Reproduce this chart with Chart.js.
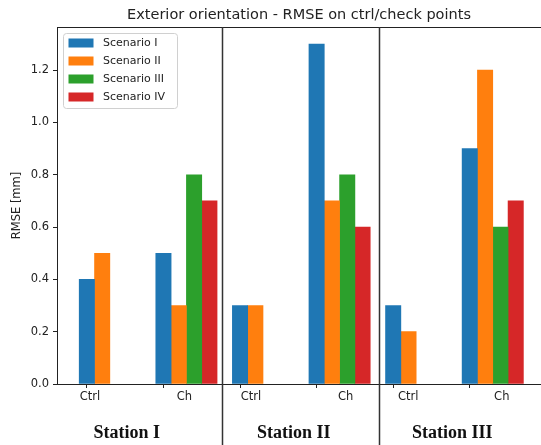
<!DOCTYPE html>
<html>
<head>
<meta charset="utf-8">
<script src="https://cdn.jsdelivr.net/npm/chart.js@4.4.0/dist/chart.umd.min.js"></script>
<style>
  html, body { margin: 0; padding: 0; background: #fff; overflow: hidden; }
  #grafico { display: block; }
</style>
</head>
<body>
<canvas id="grafico" width="541" height="445"></canvas>
<script>
// dados
const groupLabels = ['Ctrl', 'Ch', 'Ctrl', 'Ch', 'Ctrl', 'Ch'];
const stationLabels = ['Station I', 'Station II', 'Station III'];
const scenarioNames = ['Scenario I', 'Scenario II', 'Scenario III', 'Scenario IV'];
const scenarioI = [0.4, 0.5, 0.3, 1.3, 0.3, 0.9];
const scenarioII = [0.5, 0.3, 0.3, 0.7, 0.2, 1.2];
const scenarioIII = [null, 0.8, null, 0.8, null, 0.6];
const scenarioIV = [null, 0.7, null, 0.6, null, 0.7];
const yTicks = [0, 0.2, 0.4, 0.6, 0.8, 1.0, 1.2];

// layout (nao sao dados)
const cores = ['#1f77b4', '#ff7f0e', '#2ca02c', '#d62728'];
const barStep = 0.2;
const separadores = [1.76, 3.82];
const centroStation = [0.52, 2.7, 4.77];
const labelShift = [3, 21, 11, 29, 15, 32];

const series = [scenarioI, scenarioII, scenarioIII, scenarioIV];
const datasets = series.map(function (vals, k) {
    return {
        label: scenarioNames[k],
        data: vals.map(function (v, i) { return {x: i + k * barStep, y: v}; }),
        backgroundColor: cores[k],
        borderWidth: 0,
        grouped: false,
        barPercentage: 1,
        categoryPercentage: 1
    };
});

// desenha legenda, separadores, rotulos do eixo x e estacoes
const extras = {
    id: 'extras',
    afterDatasetsDraw: function (chart) {
        const c = chart.ctx;
        const area = chart.chartArea;
        const xs = chart.scales.x;
        c.save();

        // eixo de cima
        c.strokeStyle = '#222';
        c.lineWidth = 1;
        c.beginPath();
        c.moveTo(area.left, area.top + 0.5);
        c.lineTo(area.right, area.top + 0.5);
        c.stroke();

        // linhas separando as estacoes
        c.strokeStyle = '#333';
        c.lineWidth = 1.5;
        separadores.forEach(function (v) {
            const px = Math.round(xs.getPixelForValue(v)) + 0.5;
            c.beginPath();
            c.moveTo(px, area.top);
            c.lineTo(px, chart.height);
            c.stroke();
        });

        // rotulos Ctrl / Ch
        c.fillStyle = '#222';
        c.font = '11.5px "DejaVu Sans"';
        c.textAlign = 'center';
        c.textBaseline = 'middle';
        groupLabels.forEach(function (lab, i) {
            c.fillText(lab, xs.getPixelForValue(i) + labelShift[i], area.bottom + 13);
        });

        // nomes das estacoes
        c.fillStyle = '#111';
        c.font = 'bold 18px "Liberation Serif"';
        stationLabels.forEach(function (lab, i) {
            c.fillText(lab, xs.getPixelForValue(centroStation[i]), area.bottom + 49);
        });

        // legenda
        const lx = area.left + 6, ly = area.top + 6, lw = 114, lh = 75;
        c.fillStyle = 'rgba(255,255,255,0.85)';
        c.strokeStyle = '#d0d0d0';
        c.lineWidth = 1;
        c.beginPath();
        c.roundRect(lx + 0.5, ly + 0.5, lw, lh, 3);
        c.fill();
        c.stroke();
        c.textAlign = 'left';
        c.font = '11px "DejaVu Sans"';
        chart.data.datasets.forEach(function (ds, k) {
            const yy = ly + 10 + k * 18;
            c.fillStyle = ds.backgroundColor;
            c.fillRect(lx + 5.5, yy - 4.5, 25, 9);
            c.fillStyle = '#222';
            c.fillText(ds.label, lx + 40, yy);
        });

        c.restore();
    }
};

const ctx = document.getElementById('grafico').getContext('2d');
const myChart = new Chart(ctx, {
    type: 'bar',
    data: { datasets: datasets },
    plugins: [extras],
    options: {
        responsive: false,
        animation: false,
        layout: { padding: 0 },
        plugins: {
            legend: { display: false },
            tooltip: { enabled: false },
            title: {
                display: true,
                fullSize: false,
                text: 'Exterior orientation - RMSE on ctrl/check points',
                color: '#222',
                font: { family: 'DejaVu Sans', size: 14.5, weight: 'normal', lineHeight: '16px' },
                padding: { top: 7, bottom: 4 }
            }
        },
        scales: {
            x: {
                type: 'linear',
                offset: false,
                min: -0.39,
                max: 5.93,
                afterBuildTicks: function (scale) {
                    scale.ticks = groupLabels.map(function (l, i) { return {value: i}; });
                },
                afterFit: function (scale) { scale.height = 61; },
                ticks: { display: false },
                grid: { offset: false, drawOnChartArea: false, drawTicks: true, tickLength: 4, color: '#222' },
                border: { display: true, color: '#222', width: 1 }
            },
            y: {
                min: 0,
                max: 1.365,
                afterBuildTicks: function (scale) {
                    scale.ticks = yTicks.map(function (v) { return {value: v}; });
                },
                afterFit: function (scale) { scale.width = 57; },
                ticks: {
                    color: '#222',
                    padding: 4,
                    font: { family: 'DejaVu Sans', size: 11.5 },
                    callback: function (v) { return v.toFixed(1); }
                },
                grid: { drawOnChartArea: false, drawTicks: true, tickLength: 4, color: '#222' },
                border: { display: true, color: '#222', width: 1 },
                title: {
                    display: true,
                    text: 'RMSE [mm]',
                    color: '#222',
                    font: { family: 'DejaVu Sans', size: 11.5 },
                    padding: { top: 10 }
                }
            }
        }
    }
});
</script>
</body>
</html>
